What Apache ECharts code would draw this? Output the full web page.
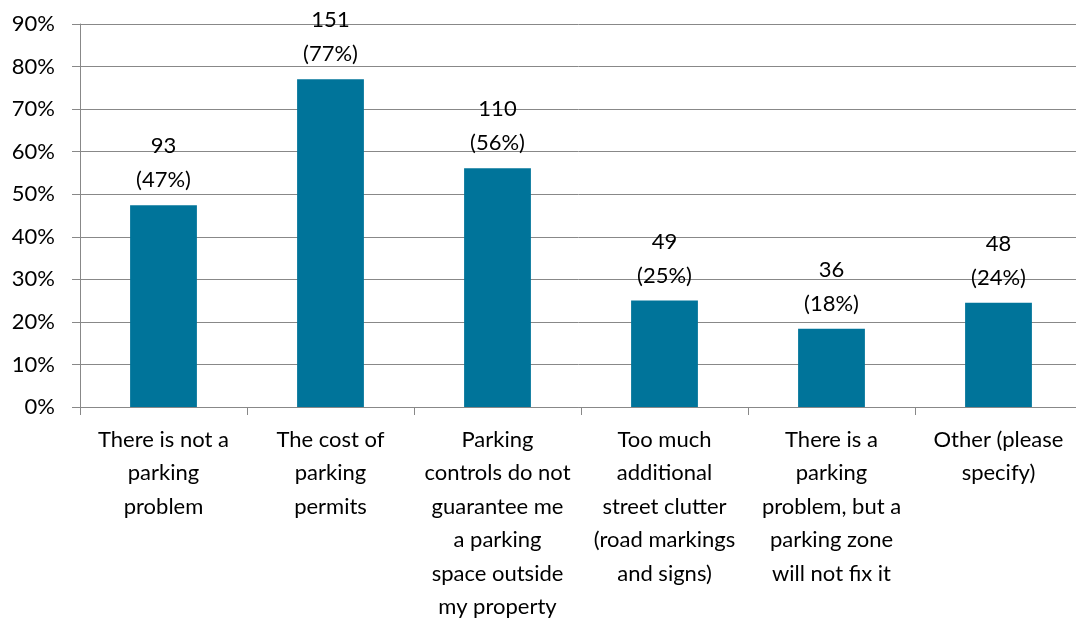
<!DOCTYPE html>
<html>
<head>
<meta charset="utf-8">
<script src="https://cdn.jsdelivr.net/npm/echarts@6/dist/echarts.min.js"></script>
<style>
  html, body { margin: 0; padding: 0; background: #fff; }
  #main { width: 1076px; height: 618px; }
</style>
</head>
<body>
<div id="main"></div>
<script>
  const categories = [
    "There is not a\nparking\nproblem",
    "The cost of\nparking\npermits",
    "Parking\ncontrols do not\nguarantee me\na parking\nspace outside\nmy property",
    "Too much\nadditional\nstreet clutter\n(road markings\nand signs)",
    "There is a\nparking\nproblem, but a\nparking zone\nwill not fix it",
    "Other (please\nspecify)",
  ];
  const counts = [93, 151, 110, 49, 36, 48];
  const percents = [47.4, 77.0, 56.1, 25.0, 18.4, 24.5];
  const percentLabels = ["47%", "77%", "56%", "25%", "18%", "24%"];
  const yTicks = [0, 10, 20, 30, 40, 50, 60, 70, 80, 90];

  const font = "Lato, 'Open Sans', sans-serif";
  const gray = "#888888";

  let myChart = echarts.init(document.getElementById("main"));
  let option = {
    animation: false,
    grid: { left: 80, right: -6, top: 24, bottom: 211, outerBoundsMode: "none" },
    xAxis: {
      type: "category",
      data: categories,
      axisLine: { lineStyle: { color: gray, width: 1 } },
      axisTick: { show: true, length: 8, alignWithLabel: false, lineStyle: { color: gray } },
      axisLabel: {
        interval: 0,
        color: "#000",
        fontFamily: font,
        fontSize: 22,
        lineHeight: 33.5,
        margin: 16,
      },
    },
    yAxis: {
      type: "value",
      min: yTicks[0],
      max: yTicks[yTicks.length - 1],
      interval: 10,
      axisLine: { show: true, lineStyle: { color: gray, width: 1 } },
      axisTick: { show: true, length: 8, lineStyle: { color: gray } },
      splitLine: { show: true, lineStyle: { color: gray, width: 1 } },
      axisLabel: {
        color: "#000",
        fontFamily: font,
        fontSize: 22,
        margin: 25,
        formatter: (v) => v + "%",
      },
    },
    series: [
      {
        type: "bar",
        data: percents,
        barWidth: "40%",
        itemStyle: { color: "#00749a" },
        label: {
          show: true,
          position: "top",
          distance: 8,
          color: "#000",
          fontFamily: font,
          fontSize: 22,
          lineHeight: 34,
          formatter: (p) => counts[p.dataIndex] + "\n(" + percentLabels[p.dataIndex] + ")",
        },
      },
    ],
  };
  myChart.setOption(option);
</script>
</body>
</html>
